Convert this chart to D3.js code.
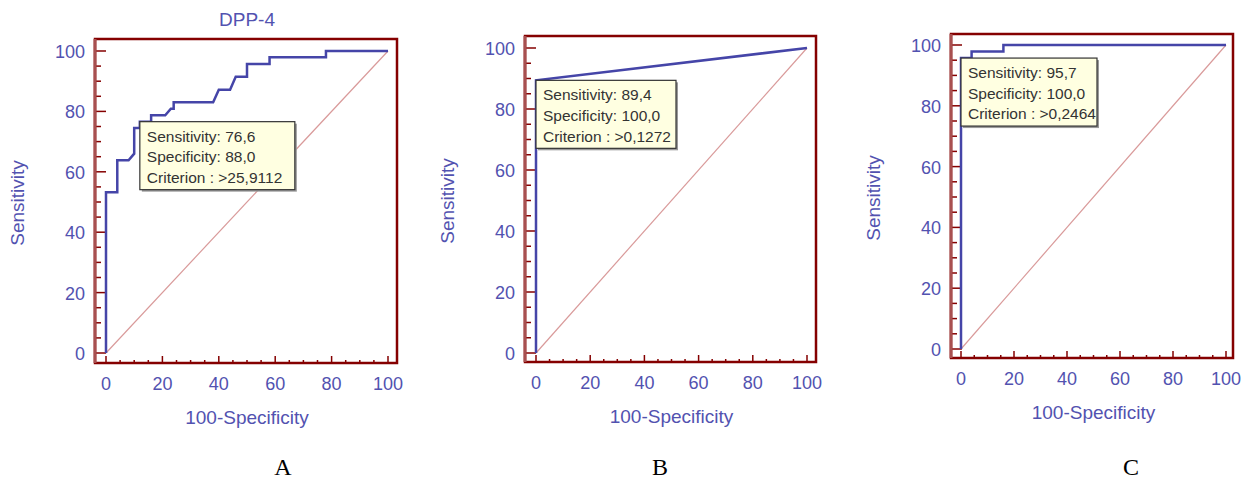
<!DOCTYPE html>
<html>
<head>
<meta charset="utf-8">
<script src="https://cdn.jsdelivr.net/npm/d3@7"></script>
<style>
  body { margin: 0; background: #fff; }
  text { font-family: "Liberation Sans", Arial, sans-serif; }
</style>
</head>
<body>
<div id="container"></div>
<script>
const canvasWidth = 1247;
const canvasHeight = 479;

// ROC points: [100-specificity, sensitivity]
let rocA = [[0,0],[0,53.2],[4,53.2],[4,63.8],[8,63.8],[10,66],[10,74.5],[12,74.5],[12,76.6],[16,76.6],
  [16,78.7],[21,78.7],[23,80.9],[24,80.9],[24,83],[38,83],[40,87.2],[44,87.2],[46,91.5],[50,91.5],
  [50,95.7],[58,95.7],[58,97.9],[78,97.9],[78,100],[100,100]];
let rocB = [[0,0],[0,89.4],[100,100]];
let rocC = [[0,0],[0,95.7],[4,95.7],[4,97.9],[16,97.9],[16,100],[100,100]];

// criterion box text, anchored at the cut-off point
let cutA = [12, 76.6];
let cutB = [0, 89.4];
let cutC = [0, 95.7];
let infoA = ['Sensitivity: 76,6', 'Specificity: 88,0', 'Criterion : >25,9112'];
let infoB = ['Sensitivity: 89,4', 'Specificity: 100,0', 'Criterion : >0,1272'];
let infoC = ['Sensitivity: 95,7', 'Specificity: 100,0', 'Criterion : >0,2464'];

let panelLetters = ['A', 'B', 'C'];
let titles = ['DPP-4', '', ''];
let tickValues = [0, 20, 40, 60, 80, 100];

let textColor = '#5252b0';
let frameColor = '#850000';
let curveColor = '#4545a8';

// layout of each panel (frame box and data area in px)
let panels = [
  {roc: rocA, cut: cutA, info: infoA, frame: [95,39,397,363], xr: [106,388], yr: [353,51], boxW: 155, letterX: 283},
  {roc: rocB, cut: cutB, info: infoB, frame: [525,36,816,362], xr: [536,807], yr: [353,48], boxW: 140, letterX: 660},
  {roc: rocC, cut: cutC, info: infoC, frame: [951,34,1233,358], xr: [961,1226], yr: [349,45], boxW: 136, letterX: 1131}
];

let svg = d3.select('#container')
  .append('svg')
  .attr('width', canvasWidth)
  .attr('height', canvasHeight);

panels.forEach(function(p, i){
  let g = svg.append('g').attr('class', 'panel');
  let x = d3.scaleLinear().domain([0,100]).range(p.xr);
  let y = d3.scaleLinear().domain([0,100]).range(p.yr);
  let [fx0, fy0, fx1, fy1] = p.frame;
  let minor = d3.range(0, 101, 5);

  // y ticks from the left frame edge
  g.selectAll('.yt').data(minor).enter()
    .append('line')
    .attr('x1', fx0)
    .attr('x2', d => fx0 + (d % 20 == 0 ? 11 : 6))
    .attr('y1', d => y(d)).attr('y2', d => y(d))
    .style('stroke', frameColor).style('stroke-width', 1.5);

  // x ticks from the bottom frame edge
  g.selectAll('.xt').data(minor).enter()
    .append('line')
    .attr('y1', fy1)
    .attr('y2', d => fy1 - (d % 20 == 0 ? 7 : 3))
    .attr('x1', d => x(d)).attr('x2', d => x(d))
    .style('stroke', frameColor).style('stroke-width', 1.5);

  // diagonal reference line
  g.append('line')
    .attr('x1', x(0)).attr('y1', y(0))
    .attr('x2', x(100)).attr('y2', y(100))
    .style('stroke', '#d99a9a').style('stroke-width', 1.2);

  // ROC curve
  let line = d3.line().x(d => x(d[0])).y(d => y(d[1]));
  g.append('path')
    .datum(p.roc)
    .attr('d', line)
    .style('fill', 'none')
    .style('stroke', curveColor)
    .style('stroke-width', 2.5);

  // frame
  g.append('rect')
    .attr('x', fx0).attr('y', fy0)
    .attr('width', fx1 - fx0).attr('height', fy1 - fy0)
    .style('fill', 'none')
    .style('stroke', frameColor)
    .style('stroke-width', 2.5);
  g.append('line')
    .attr('x1', fx0).attr('x2', fx0).attr('y1', fy0).attr('y2', fy1)
    .style('stroke', '#a85050').style('stroke-width', 3);

  // tick labels
  g.selectAll('.yl').data(tickValues).enter()
    .append('text')
    .attr('x', fx0 - 10)
    .attr('y', d => y(d) + 7)
    .attr('text-anchor', 'end')
    .style('font-size', '18px')
    .style('fill', textColor)
    .text(d => d);
  g.selectAll('.xl').data(tickValues).enter()
    .append('text')
    .attr('x', d => x(d))
    .attr('y', fy1 + 27)
    .attr('text-anchor', 'middle')
    .style('font-size', '18px')
    .style('fill', textColor)
    .text(d => d);

  // axis titles
  g.append('text')
    .attr('x', (p.xr[0] + p.xr[1]) / 2)
    .attr('y', fy1 + 61)
    .attr('text-anchor', 'middle')
    .style('font-size', '19px')
    .style('fill', textColor)
    .text('100-Specificity');
  let cy = (fy0 + fy1) / 2 + 2;
  g.append('text')
    .attr('transform', 'translate(' + (fx0 - 71) + ',' + cy + ') rotate(-90)')
    .attr('text-anchor', 'middle')
    .style('font-size', '19px')
    .style('fill', textColor)
    .text('Sensitivity');

  if (titles[i]) {
    g.append('text')
      .attr('x', (p.xr[0] + p.xr[1]) / 2)
      .attr('y', fy0 - 13)
      .attr('text-anchor', 'middle')
      .style('font-size', '19px')
      .style('fill', textColor)
      .text(titles[i]);
  }

  // criterion box
  let bx = x(p.cut[0]), by = y(p.cut[1]);
  g.append('rect')
    .attr('x', bx + 2).attr('y', by + 2)
    .attr('width', p.boxW).attr('height', 68)
    .style('fill', '#9a9a9a');
  g.append('rect')
    .attr('x', bx).attr('y', by)
    .attr('width', p.boxW).attr('height', 68)
    .style('fill', '#ffffe1')
    .style('stroke', '#333')
    .style('stroke-width', 1.2);
  g.selectAll('.info').data(p.info).enter()
    .append('text')
    .attr('x', bx + 7)
    .attr('y', (d, k) => by + 20 + k * 20.7)
    .style('font-size', '15.5px')
    .style('fill', '#333')
    .text(d => d);

  // panel letter
  svg.append('text')
    .attr('x', p.letterX)
    .attr('y', 475)
    .attr('text-anchor', 'middle')
    .style('font-family', '"Liberation Serif", "Times New Roman", serif')
    .style('font-size', '24px')
    .style('fill', '#000')
    .text(panelLetters[i]);
});
</script>
</body>
</html>
